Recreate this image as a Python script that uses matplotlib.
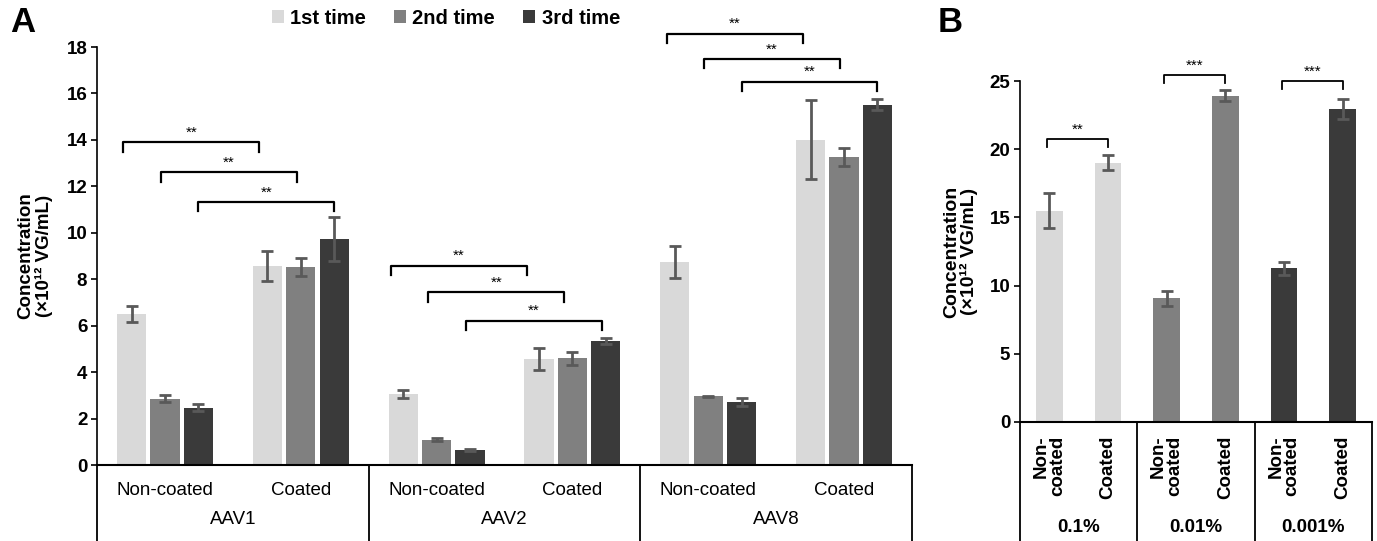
import matplotlib
matplotlib.use("Agg")
import matplotlib.pyplot as plt
import matplotlib.transforms as mtrans
from matplotlib.patches import Patch
from matplotlib import font_manager
import numpy as np

# ---------------- data ----------------
series = ['1st time', '2nd time', '3rd time']
groups_a = ['AAV1', 'AAV2', 'AAV8']
conditions = ['Non-coated', 'Coated']
means_1st = [6.5, 8.57, 3.06, 4.56, 8.75, 14.0]
means_2nd = [2.86, 8.52, 1.09, 4.59, 2.95, 13.25]
means_3rd = [2.47, 9.74, 0.65, 5.34, 2.70, 15.52]
err_1st = [0.33, 0.66, 0.16, 0.48, 0.70, 1.70]
err_2nd = [0.15, 0.38, 0.07, 0.27, 0.04, 0.38]
err_3rd = [0.15, 0.95, 0.05, 0.12, 0.18, 0.24]
bracket_a_y = [[13.9, 12.6, 11.32], [8.59, 7.44, 6.21], [18.56, 17.48, 16.5]]
bracket_a_lbl = ['**', '**', '**']

groups_b = ['0.1%', '0.01%', '0.001%']
b_conditions = ['Non-\ncoated', 'Coated']
b_noncoated = [15.5, 9.09, 11.26]
b_coated = [19.0, 23.93, 22.98]
b_nc_err = [1.3, 0.55, 0.5]
b_c_err = [0.55, 0.4, 0.73]
bracket_b_y = [20.74, 25.46, 25.0]
bracket_b_lbl = ['**', '***', '***']

ylabel_text = 'Concentration\n(×10¹² VG/mL)'

colors = ['#d9d9d9', '#808080', '#3a3a3a']
err_color = '#595959'

names = {f.name for f in font_manager.fontManager.ttflist}
narrow = ['Liberation Sans Narrow', 'Liberation Sans', 'DejaVu Sans'] if 'Liberation Sans Narrow' in names else ['Liberation Sans', 'DejaVu Sans']
arial = ['Liberation Sans', 'DejaVu Sans']
plt.rcParams['font.family'] = arial

fig = plt.figure(figsize=(13.77, 5.41), dpi=100)
W, H = 1377, 541

# ---------------- panel A ----------------
axA = fig.add_axes([97 / W, (541 - 465) / H, (912 - 97) / W, (465 - 47) / H])
means = [means_1st, means_2nd, means_3rd]
errs = [err_1st, err_2nd, err_3rd]
xc = np.arange(6) + 0.5
pitch, bw = 0.246, 0.215
for i in range(3):
    axA.bar(xc + (i - 1) * pitch, means[i], bw, color=colors[i], label=series[i], zorder=2)
    axA.errorbar(xc + (i - 1) * pitch, means[i], yerr=errs[i], fmt='none', ecolor=err_color,
                 elinewidth=2, capsize=4.5, capthick=2, zorder=3)
axA.set_xlim(0, 6)
axA.set_ylim(0, 18)
axA.set_yticks(np.arange(0, 19, 2))
axA.tick_params(axis='y', length=4, width=1.2, direction='out', labelsize=13.5, pad=3)
for t in axA.get_yticklabels():
    t.set_family(narrow)
    t.set_fontweight('bold')
axA.set_xticks([])
for s in ['top', 'right']:
    axA.spines[s].set_visible(False)
axA.spines['left'].set_linewidth(1.2)
axA.spines['bottom'].set_linewidth(1.5)
axA.set_ylabel(ylabel_text, fontsize=13.5, fontweight='bold', labelpad=10, linespacing=1.0)

# brackets A
offs = [-0.06, -0.03, 0.0]
for g in range(3):
    for i in range(3):
        x0 = xc[2 * g] + (i - 1) * pitch + offs[i] - (0.03 if g == 1 else 0)
        x1 = xc[2 * g + 1] + (i - 1) * pitch + offs[i] - (0.03 if g == 1 else 0)
        y = bracket_a_y[g][i]
        axA.plot([x0, x0, x1, x1], [y - 0.4, y, y, y - 0.4], color='black', lw=1.6, clip_on=False, zorder=4)
        axA.text((x0 + x1) / 2, y + 0.12, bracket_a_lbl[g], ha='center', va='bottom', fontsize=11, clip_on=False)

# category table A
trA = mtrans.blended_transform_factory(axA.transData, axA.transAxes)
for xv in [0, 2, 4, 6]:
    axA.plot([xv, xv], [0, -0.25], color='black', lw=1.3, transform=trA, clip_on=False)
for k in range(6):
    axA.text(xc[k], -0.06, conditions[k % 2], transform=trA, ha='center', va='center',
             fontsize=13.5, family=narrow)
for g in range(3):
    axA.text(2 * g + 1, -0.13, groups_a[g], transform=trA, ha='center', va='center',
             fontsize=13.5, family=narrow)

# legend
handles = [Patch(facecolor=colors[i], label=series[i]) for i in range(3)]
leg = fig.legend(handles=handles, loc='center', bbox_to_anchor=(446 / W, 1 - 18 / H), ncol=3,
                 frameon=False, handlelength=0.6, handleheight=0.6, handletextpad=0.3,
                 columnspacing=1.4, prop={'family': narrow, 'weight': 'bold', 'size': 14.5})

fig.text(10 / W, 1 - 23 / H, 'A', fontsize=25, fontweight='bold', va='center', ha='left')

# ---------------- panel B ----------------
axB = fig.add_axes([1020 / W, (541 - 422) / H, (1372 - 1020) / W, (422 - 81) / H])
xb = np.arange(6) + 0.5
bvals = []
berrs = []
bcols = []
for g in range(3):
    bvals += [b_noncoated[g], b_coated[g]]
    berrs += [b_nc_err[g], b_c_err[g]]
    bcols += [colors[g], colors[g]]
axB.bar(xb, bvals, 0.45, color=bcols, zorder=2)
axB.errorbar(xb, bvals, yerr=berrs, fmt='none', ecolor=err_color, elinewidth=2, capsize=4.5,
             capthick=2, zorder=3)
axB.set_xlim(0, 6)
axB.set_ylim(0, 25)
axB.set_yticks(np.arange(0, 26, 5))
axB.tick_params(axis='y', length=4, width=1.2, direction='out', labelsize=13.5, pad=3)
for t in axB.get_yticklabels():
    t.set_fontweight('bold')
axB.set_xticks([])
for s in ['top', 'right']:
    axB.spines[s].set_visible(False)
axB.spines['left'].set_linewidth(1.2)
axB.spines['bottom'].set_linewidth(1.5)
axB.set_ylabel(ylabel_text, fontsize=14, fontweight='bold', labelpad=8, linespacing=1.0)

for g in range(3):
    x0 = xb[2 * g] - 0.04
    x1 = xb[2 * g + 1]
    y = bracket_b_y[g]
    axB.plot([x0, x0, x1, x1], [y - 0.6, y, y, y - 0.6], color='black', lw=1.3, clip_on=False, zorder=4)
    axB.text((x0 + x1) / 2, y + 0.15, bracket_b_lbl[g], ha='center', va='bottom', fontsize=11, clip_on=False)

trB = mtrans.blended_transform_factory(axB.transData, axB.transAxes)
for xv in [0, 2, 4, 6]:
    axB.plot([xv, xv], [0, -0.4], color='black', lw=1.3, transform=trB, clip_on=False)
for k in range(6):
    axB.text(xb[k], -0.04, b_conditions[k % 2], transform=trB, ha='center', va='top', rotation=90,
             multialignment='right', fontsize=13.5, fontweight='bold', linespacing=0.95)
for g in range(3):
    axB.text(2 * g + 1, -0.308, groups_b[g], transform=trB, ha='center', va='center',
             fontsize=13.5, fontweight='bold')

fig.text(938 / W, 1 - 23 / H, 'B', fontsize=25, fontweight='bold', va='center', ha='left')

fig.savefig('out.png', dpi=100)
